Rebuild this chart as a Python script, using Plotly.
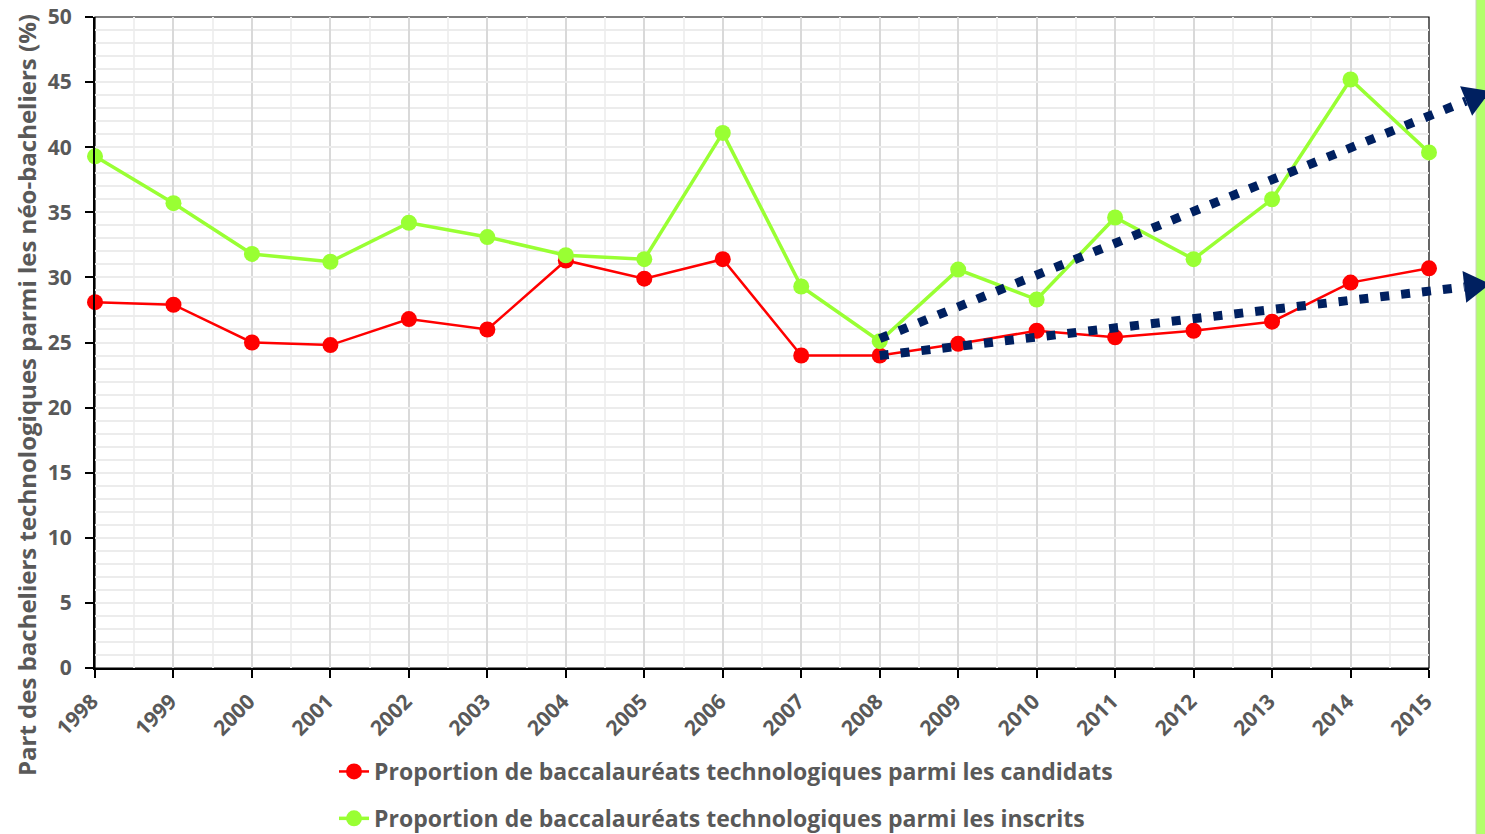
import plotly.graph_objects as go

years = [1998, 1999, 2000, 2001, 2002, 2003, 2004, 2005, 2006, 2007, 2008,
         2009, 2010, 2011, 2012, 2013, 2014, 2015]
candidats = [28.1, 27.9, 25.0, 24.8, 26.8, 26.0, 31.3, 29.9, 31.4, 24.0, 24.0,
             24.9, 25.9, 25.4, 25.9, 26.6, 29.6, 30.7]
inscrits = [39.3, 35.7, 31.8, 31.2, 34.2, 33.1, 31.7, 31.4, 41.1, 29.3, 25.1,
            30.6, 28.3, 34.6, 31.4, 36.0, 45.2, 39.6]
tick_labels = [str(y) for y in years]

name_cand = "Proportion de baccalauréats technologiques parmi les candidats"
name_insc = "Proportion de baccalauréats technologiques parmi les inscrits"
y_title = "Part des bacheliers technologiques parmi les néo-bacheliers (%)"

# trend arrows (data units): start year/value, end year/value
trend_upper = [(2008, 25.3), (2015.78, 44.3)]
trend_lower = [(2008, 24.0), (2015.78, 29.5)]

W, H = 1485, 834
ML, MR, MT, MB = 95, 56, 17, 166
PW, PH = W - ML - MR, H - MT - MB
XMIN, XMAX = 1998, 2015
YMIN, YMAX = 0, 50

GREY = "#595959"
FONT = "Open Sans"
NAVY = "#002060"

fig = go.Figure()
fig.add_trace(go.Scatter(
    x=years, y=candidats, name=name_cand, mode="lines+markers",
    line=dict(color="#ff0000", width=2.5),
    marker=dict(color="#ff0000", size=16),
    cliponaxis=False, legendgroup="a"))
fig.add_trace(go.Scatter(
    x=years, y=inscrits, name=name_insc, mode="lines+markers",
    line=dict(color="#99ff33", width=3.5),
    marker=dict(color="#99ff33", size=16),
    cliponaxis=False, legendgroup="b"))


def to_px(x, y):
    return ((x - XMIN) / (XMAX - XMIN) * PW, (y - YMIN) / (YMAX - YMIN) * PH)


def to_paper(px, py):
    return px / PW, py / PH


shapes = []
# thin frame (top/right) of the plot area
shapes.append(dict(type="rect", xref="paper", yref="paper", x0=0, x1=1,
                   y0=0, y1=1, line=dict(color="black", width=1.2),
                   layer="between"))
# green bar on the right edge
shapes.append(dict(type="rect", xref="paper", yref="paper",
                   x0=(1476 - ML) / PW, x1=(1490 - ML) / PW,
                   y0=-0.4, y1=1.2, fillcolor="#b3ff6b",
                   line=dict(color="#c8d2bc", width=1), layer="above"))

for (x0, y0), (x1, y1) in (trend_upper, trend_lower):
    ax0, ay0 = to_px(x0, y0)
    ax1, ay1 = to_px(x1, y1)
    dx, dy = ax1 - ax0, ay1 - ay0
    ln = (dx ** 2 + dy ** 2) ** 0.5
    ux, uy = dx / ln, dy / ln
    px_, py_ = -uy, ux
    L, HW = 26, 16
    bx, by = ax1 - L * ux, ay1 - L * uy
    sx, sy = to_paper(ax0, ay0)
    ex, ey = to_paper(bx, by)
    shapes.append(dict(type="line", xref="paper", yref="paper",
                       x0=sx, y0=sy, x1=ex, y1=ey, layer="above",
                       line=dict(color=NAVY, width=9, dash="9px,12px")))
    p1 = to_paper(ax1, ay1)
    p2 = to_paper(bx + HW * px_, by + HW * py_)
    p3 = to_paper(bx - HW * px_, by - HW * py_)
    path = "M {:.5f},{:.5f} L {:.5f},{:.5f} L {:.5f},{:.5f} Z".format(
        p1[0], p1[1], p2[0], p2[1], p3[0], p3[1])
    shapes.append(dict(type="path", xref="paper", yref="paper", path=path,
                       fillcolor=NAVY, line=dict(color=NAVY, width=0),
                       layer="above"))

fig.update_layout(
    width=W, height=H,
    margin=dict(l=ML, r=MR, t=MT, b=MB, pad=0, autoexpand=False),
    paper_bgcolor="white", plot_bgcolor="white",
    font=dict(family=FONT, color=GREY, size=21, weight="bold"),
    shapes=shapes,
    showlegend=True,
    legend=dict(x=(334 - ML) / PW, y=1 - (750 - MT) / PH, xanchor="left",
                yanchor="top", orientation="v", traceorder="grouped",
                tracegroupgap=14, bgcolor="rgba(0,0,0,0)",
                font=dict(family=FONT, size=23, color=GREY, weight="bold")),
    annotations=[dict(text=y_title, xref="paper", yref="paper",
                      x=(26 - ML) / PW, y=1 - (395 - MT) / PH, textangle=-90,
                      showarrow=False, xanchor="center", yanchor="middle",
                      font=dict(family=FONT, size=24, color=GREY,
                                weight="bold"))],
)

fig.update_xaxes(
    range=[XMIN, XMAX], tickvals=years, ticktext=tick_labels, tickangle=-45,
    showline=True, linecolor="black", linewidth=2, mirror=False,
    ticks="outside", ticklen=8, tickwidth=2, tickcolor="black",
    ticklabelstandoff=3, ticklabelshift=-3, ticklabeloverflow="allow",
    automargin=False,
    showgrid=True, gridcolor="#d9d9d9", gridwidth=1.5,
    minor=dict(dtick=0.5, tick0=1998, showgrid=True, gridcolor="#f0f0f0",
               gridwidth=1.5),
    tickfont=dict(family=FONT, size=21, color=GREY, weight="bold"),
    zeroline=False)
fig.update_yaxes(
    range=[YMIN, YMAX], dtick=5, tick0=0,
    showline=True, linecolor="black", linewidth=2, mirror=False,
    ticks="outside", ticklen=8, tickwidth=2, tickcolor="black",
    ticklabelstandoff=9, ticklabeloverflow="allow", automargin=False,
    showgrid=True, gridcolor="#ececec", gridwidth=1.5,
    minor=dict(dtick=1, showgrid=True, gridcolor="#ececec", gridwidth=1.5),
    tickfont=dict(family=FONT, size=21, color=GREY, weight="bold"),
    zeroline=False)

fig.write_html(
    "out.html",
    config={"displayModeBar": False},
    post_script="document.body.style.margin='0';"
                "document.documentElement.style.overflow='hidden';")
